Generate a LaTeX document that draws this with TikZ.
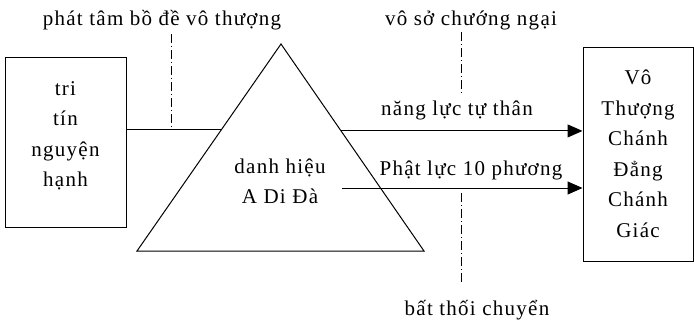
\documentclass[tikz,border=0pt]{standalone}
\usepackage{fontspec}
\setmainfont{Liberation Serif}[LetterSpace=6]
\usetikzlibrary{arrows.meta,calc}

\tikzset{
  box/.style={draw,line width=1pt,inner sep=0pt},
  txt/.style={align=center,inner sep=0pt},
  lbl/.style={inner sep=0pt,anchor=base},
  dashdot/.style={line width=0.8pt,dash pattern=on 9pt off 3pt on 1pt off 3pt},
  link/.style={line width=1pt},
  arr/.style={line width=1pt,-{Triangle[length=15pt,width=13pt]}}
}

\begin{document}
\begin{tikzpicture}[x=1pt,y=-1pt,font=\fontsize{21}{30.5}\selectfont]
        \useasboundingbox (0,0) rectangle (694,325);
        % boxes
        \node[box,minimum width=121pt,minimum height=170pt] (tri) at (65.5,142) {};
        \node[txt] (tritext) at (65.5,136) {tri\\tín\\nguyện\\hạnh};
        \node[box,txt,minimum width=110pt,minimum height=214pt] (vo) at (638,154) {Vô\\Thượng\\Chánh\\Đẳng\\Chánh\\Giác};
        % triangle
        \coordinate (apex) at (281,44);
        \coordinate (bl) at (137,251);
        \coordinate (br) at (424,251);
        \draw[link] (apex) -- (bl) -- (br) -- cycle;
        \node[txt] (dh) at (280,181.5) {danh hiệu\\A Di Đà};
        % connectors
        \coordinate (tl) at ($(apex)!0.415!(bl)$);
        \coordinate (tr) at ($(apex)!0.42!(br)$);
        \coordinate (ph) at (342,188);
        \draw[link] (tri.east |- tl) -- (tl);
        \draw[arr] (tr) -- (vo.west |- tr);
        \draw[arr] (ph) -- (vo.west |- ph);
        % labels
        \node[lbl] (lphat) at (162,25) {phát tâm bồ đề vô thượng};
        \node[lbl] (lvoso) at (471,25) {vô sở chướng ngại};
        \node[lbl] (lnang) at (457,115) {năng lực tự thân};
        \node[lbl] (lphatluc) at (471,175) {Phật lực 10 phương};
        \node[lbl] (lbat) at (477,315) {bất thối chuyển};
        % dash-dot marks
        \coordinate (m1) at (171,34);
        \coordinate (m2) at (461,32);
        \coordinate (m3) at (461,95);
        \coordinate (m4) at (461,193);
        \coordinate (m5) at (461,284);
        \draw[dashdot] (m1) -- (m1 |- tl);
        \draw[dashdot] (m2) -- (m3);
        \draw[dashdot] (m4) -- (m5);
\end{tikzpicture}
\end{document}
